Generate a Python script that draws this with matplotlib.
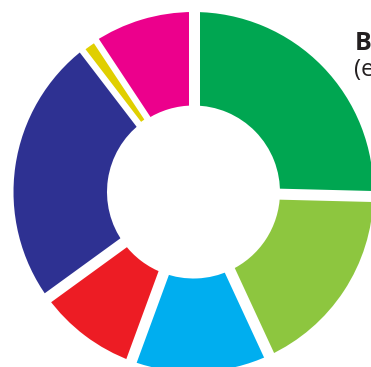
import numpy as np
import matplotlib
matplotlib.use("Agg")
import matplotlib.pyplot as plt

# shares of the donut (%), clockwise from 12 o'clock
labels = ["green", "lightgreen", "blue", "red", "navy", "yellow", "pink"]
values = [25.4, 17.7, 12.5, 9.4, 24.6, 1.1, 9.3]
colors = ["#00A651", "#8DC63F", "#00AEEF", "#ED1C24", "#2E3192", "#E0CF00", "#EC008C"]

W, H = 371, 367
fig = plt.figure(figsize=(W / 100, H / 100), dpi=100)
ax = fig.add_axes([0, 0, 1, 1])
ax.set_xlim(0, W)
ax.set_ylim(0, H)
ax.set_aspect("equal")
ax.axis("off")

cx, cy = 193.5, H - 192
R, r_in = 180, 86.5
gap = 11 * 72 / 100  # white gap, in points

wedges, _ = ax.pie(values, colors=colors, startangle=90, counterclock=False,
                   center=(cx, cy), radius=R,
                   wedgeprops=dict(width=R - r_in, linewidth=0))
ax.set_xlim(0, W)
ax.set_ylim(0, H)

# white gaps along each boundary
bounds = np.cumsum([0] + values[:-1]) / 100 * 360
for b in bounds:
    a = np.deg2rad(90 - b)
    ax.plot([cx + (r_in - 5) * np.cos(a), cx + (R + 5) * np.cos(a)],
            [cy + (r_in - 5) * np.sin(a), cy + (R + 5) * np.sin(a)],
            color="white", lw=gap, solid_capstyle="butt", zorder=2.5)

# the thin slice sits on top with a narrow edge
yi = labels.index("yellow")
wedges[yi].set_zorder(3)
wedges[yi].set_edgecolor("white")
wedges[yi].set_linewidth(1.5)

ax.text(355, H - 50, "B", fontsize=18, fontweight="bold", family="Open Sans",
        color="#231F20", va="baseline", ha="left")
ax.text(354, H - 76, "(e", fontsize=17, family="Open Sans",
        color="#231F20", va="baseline", ha="left")

fig.savefig("out.png", dpi=100)
